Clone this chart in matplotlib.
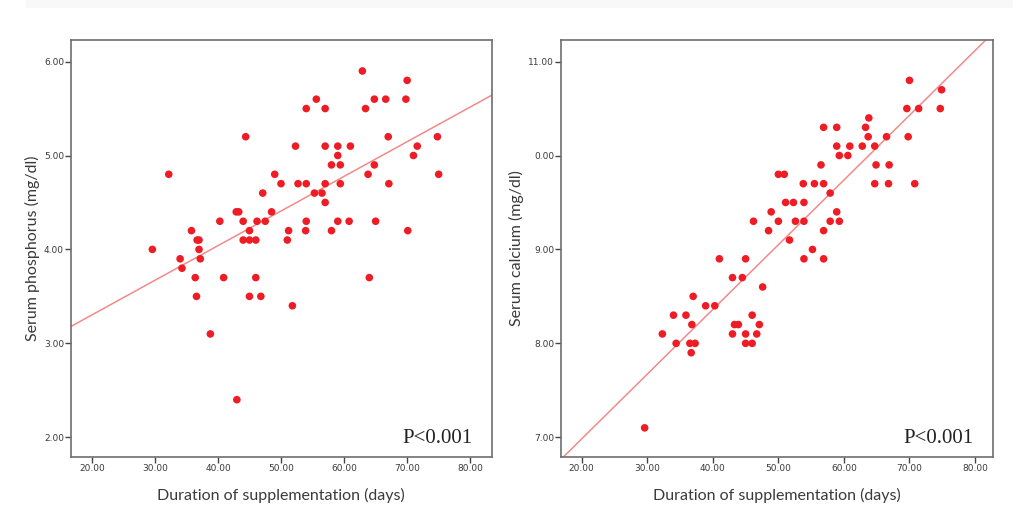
# scatter plots of serum phosphorus / calcium vs supplementation duration
import matplotlib.pyplot as plt
import numpy as np

# left panel: serum phosphorus (mg/dl)
phos_days = [62.9, 70.0, 55.6, 64.8, 66.6, 69.8, 54.0, 57.0, 63.4, 44.4,
             67.0, 74.8, 32.2, 75.0, 52.3, 57.0, 59.0, 61.0, 71.6, 59.0,
             71.0, 58.0, 59.4, 64.8, 63.8, 49.0, 50.0, 52.7, 54.0, 57.0,
             59.4, 67.1, 47.1, 55.3, 56.5, 57.0, 42.9, 43.3, 48.5, 40.3,
             44.0, 46.2, 47.5, 54.0, 59.0, 60.8, 65.0, 35.8, 45.0, 51.2,
             53.9, 58.0, 70.1, 36.7, 37.0, 44.0, 45.0, 46.0, 51.0, 29.6,
             37.0, 34.0, 37.2, 34.3, 36.4, 40.9, 46.0, 64.0, 36.6, 45.0,
             46.8, 51.8, 38.8, 43.0]
phos_vals = [5.9, 5.8, 5.6, 5.6, 5.6, 5.6, 5.5, 5.5, 5.5, 5.2,
             5.2, 5.2, 4.8, 4.8, 5.1, 5.1, 5.1, 5.1, 5.1, 5.0,
             5.0, 4.9, 4.9, 4.9, 4.8, 4.8, 4.7, 4.7, 4.7, 4.7,
             4.7, 4.7, 4.6, 4.6, 4.6, 4.5, 4.4, 4.4, 4.4, 4.3,
             4.3, 4.3, 4.3, 4.3, 4.3, 4.3, 4.3, 4.2, 4.2, 4.2,
             4.2, 4.2, 4.2, 4.1, 4.1, 4.1, 4.1, 4.1, 4.1, 4.0,
             4.0, 3.9, 3.9, 3.8, 3.7, 3.7, 3.7, 3.7, 3.5, 3.5,
             3.5, 3.4, 3.1, 2.4]
phos_fit = (0.0369, 2.564)  # slope, intercept

# right panel: serum calcium (mg/dl)
calc_days = [70.0, 74.9, 69.6, 71.4, 74.7, 56.9, 58.9, 63.3, 63.8, 63.7,
             66.5, 69.8, 58.9, 60.9, 62.8, 64.7, 59.3, 60.6, 56.5, 64.9,
             66.9, 50.0, 50.9, 53.8, 55.5, 56.9, 64.7, 66.8, 70.8, 57.9,
             51.1, 52.3, 53.9, 48.9, 58.9, 46.2, 50.0, 52.6, 53.9, 57.9,
             59.3, 48.5, 56.9, 51.7, 55.2, 41.0, 45.0, 53.9, 56.9, 43.0,
             44.5, 47.6, 37.0, 38.9, 40.3, 34.0, 35.9, 46.0, 36.8, 43.3,
             43.9, 47.1, 32.3, 43.0, 45.0, 46.7, 34.4, 36.5, 37.3, 45.0,
             46.0, 36.7, 29.6]
calc_vals = [10.8, 10.7, 10.5, 10.5, 10.5, 10.3, 10.3, 10.3, 10.4, 10.2,
             10.2, 10.2, 10.1, 10.1, 10.1, 10.1, 10.0, 10.0, 9.9, 9.9,
             9.9, 9.8, 9.8, 9.7, 9.7, 9.7, 9.7, 9.7, 9.7, 9.6,
             9.5, 9.5, 9.5, 9.4, 9.4, 9.3, 9.3, 9.3, 9.3, 9.3,
             9.3, 9.2, 9.2, 9.1, 9.0, 8.9, 8.9, 8.9, 8.9, 8.7,
             8.7, 8.6, 8.5, 8.4, 8.4, 8.3, 8.3, 8.3, 8.2, 8.2,
             8.2, 8.2, 8.1, 8.1, 8.1, 8.1, 8.0, 8.0, 8.0, 8.0,
             8.0, 7.9, 7.1]
calc_fit = (0.0689, 5.605)

x_ticks = [20, 30, 40, 50, 60, 70, 80]
phos_ticks = [2, 3, 4, 5, 6]
calc_ticks = [7, 8, 9, 10, 11]
calc_tick_labels = ['7.00', '8.00', '9.00', '0.00', '11.00']

label_font = 'Lato'
dot_color = '#ee1c24'
line_color = '#f28a8a'
spine_color = '#6e6e6e'
text_color = '#3a3a3a'

fig = plt.figure(figsize=(10.23, 5.2), dpi=100)
fig.patches.append(plt.Rectangle((0.025, 0.984), 0.965, 0.016, transform=fig.transFigure,
                                 facecolor='#f8f8f8', edgecolor='none', zorder=0))

ax1 = fig.add_axes([0.0694, 0.1212, 0.4112, 0.8019])
ax2 = fig.add_axes([0.5484, 0.1212, 0.4220, 0.8019])

panels = [
  (ax1, phos_days, phos_vals, phos_fit, (16.7, 83.4), (1.79, 6.23), phos_ticks,
   ['%.2f' % t for t in phos_ticks], 'Serum phosphorus (mg/dl)'),
  (ax2, calc_days, calc_vals, calc_fit, (16.84, 82.7), (6.79, 11.23), calc_ticks,
   calc_tick_labels, 'Serum calcium (mg/dl)'),
]

for ax, xs, ys, fit, xlim, ylim, yt, ytl, ylab in panels:
  ax.set_xlim(*xlim)
  ax.set_ylim(*ylim)
  # fit line across the whole axis
  xl = np.array(xlim)
  ax.plot(xl, fit[0] * xl + fit[1], color=line_color, linewidth=1.1, zorder=2)
  ax.scatter(xs, ys, s=30, color=dot_color, edgecolors='none', zorder=3)

  ax.set_xticks(x_ticks)
  ax.set_xticklabels(['%.2f' % t for t in x_ticks])
  ax.set_yticks(yt)
  ax.set_yticklabels(ytl)
  ax.tick_params(direction='out', length=4, width=1.0, color='#444444',
                 labelsize=6.5, labelcolor=text_color, pad=1)
  for sp in ax.spines.values():
    sp.set_color(spine_color)
    sp.set_linewidth(1.2)

  ax.set_xlabel('Duration of supplementation (days)', fontsize=11.5,
                family=label_font, color=text_color, labelpad=11)
  ax.set_ylabel(ylab, fontsize=11.5, family=label_font, color=text_color, labelpad=3)

  ax.text(0.955, 0.022, 'P<0.001', transform=ax.transAxes, ha='right', va='bottom',
          fontsize=15, family='Liberation Serif', color='#222222')

fig.savefig('out.png', dpi=100)
